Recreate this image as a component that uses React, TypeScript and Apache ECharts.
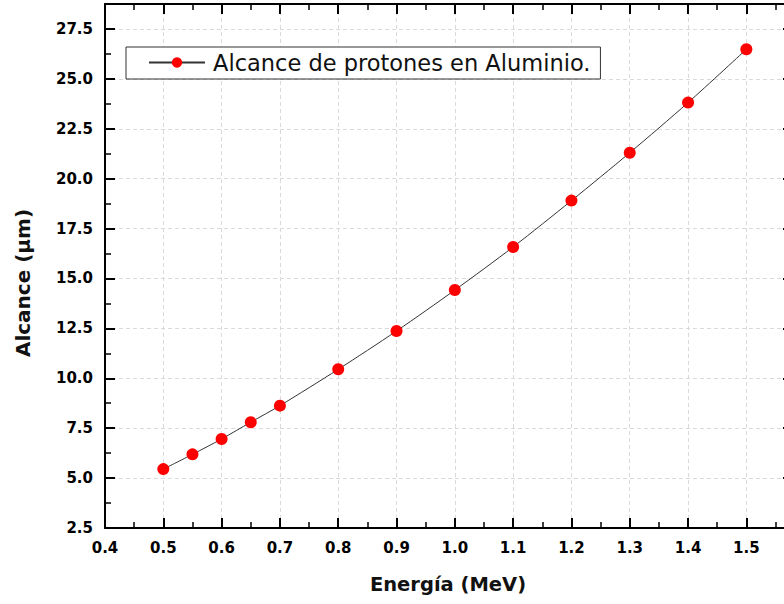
import React, { useEffect, useRef } from "react";
import * as echarts from "echarts";

const energies = [0.5, 0.55, 0.6, 0.65, 0.7, 0.8, 0.9, 1.0, 1.1, 1.2, 1.3, 1.4, 1.5];
const ranges = [5.45, 6.19, 6.96, 7.8, 8.63, 10.45, 12.37, 14.42, 16.58, 18.9, 21.3, 23.81, 26.48];
const seriesName = "Alcance de protones en Aluminio.";
const xTitle = "Energía (MeV)";
const yTitle = "Alcance (µm)";

const LABEL_FONT = "DejaVu Sans";

export default function App() {
  const ref = useRef<HTMLDivElement>(null);
  useEffect(() => {
    document.body.style.margin = "0";
    document.body.style.overflow = "hidden";
    const chart = echarts.init(ref.current!, null, { renderer: "svg" });
    const tickCommon = {
      axisLine: { show: true, lineStyle: { color: "#000", width: 2 } },
      axisTick: { show: true, inside: true, length: 10, lineStyle: { color: "#000", width: 2 } },
      minorTick: { show: true, splitNumber: 2, length: 6, lineStyle: { color: "#000", width: 1.5 } },
    };
    const labelCommon = {
      color: "#000",
      fontFamily: LABEL_FONT,
      fontWeight: "bold" as const,
      fontSize: 15,
      margin: 12,
      showMaxLabel: false,
    };
    const split = { show: true, lineStyle: { color: "#dadada", type: [4, 3] as any, width: 1 } };
    chart.setOption({
      animation: false,
      backgroundColor: "#fff",
      grid: { left: 105, top: 4, width: 688, height: 524, containLabel: false },
      legend: {
        show: true,
        left: 126,
        top: 47,
        orient: "horizontal",
        itemWidth: 56,
        itemHeight: 13,
        padding: [4, 10, 5, 22],
        borderColor: "#333",
        borderWidth: 1,
        backgroundColor: "#fff",
        textStyle: { fontFamily: "DejaVu Sans", fontSize: 22.5, color: "#111", padding: [0, 0, 0, 3] },
        data: [seriesName],
      },
      xAxis: [
        {
          type: "value",
          min: 0.4,
          max: 1.58,
          interval: 0.1,
          position: "bottom",
          ...tickCommon,
          axisLabel: { ...labelCommon, formatter: (v: number) => v.toFixed(1) },
          splitLine: split,
        },
        {
          type: "value",
          min: 0.4,
          max: 1.58,
          interval: 0.1,
          position: "top",
          ...tickCommon,
          axisLabel: { show: false },
          splitLine: { show: false },
        },
      ],
      yAxis: [
        {
          type: "value",
          min: 2.5,
          max: 28.75,
          interval: 2.5,
          position: "left",
          ...tickCommon,
          axisLabel: { ...labelCommon, formatter: (v: number) => v.toFixed(1) },
          splitLine: split,
        },
        {
          type: "value",
          min: 2.5,
          max: 28.75,
          interval: 2.5,
          position: "right",
          ...tickCommon,
          axisLabel: { show: false },
          splitLine: { show: false },
        },
      ],
      graphic: [
        {
          type: "text",
          x: 448,
          y: 584,
          style: {
            text: xTitle,
            fontFamily: "DejaVu Sans",
            fontWeight: "bold",
            fontSize: 19.5,
            fill: "#111",
            align: "center",
            verticalAlign: "middle",
          },
        },
        {
          type: "text",
          x: 23,
          y: 283,
          rotation: Math.PI / 2,
          style: {
            text: yTitle,
            fontFamily: "DejaVu Sans",
            fontWeight: "bold",
            fontSize: 20,
            fill: "#111",
            align: "center",
            verticalAlign: "middle",
          },
        },
      ],
      series: [
        {
          name: seriesName,
          type: "line",
          xAxisIndex: 0,
          yAxisIndex: 0,
          smooth: 0.3,
          data: energies.map((e, i) => [e, ranges[i]]),
          symbol: "circle",
          symbolSize: 12,
          itemStyle: { color: "#ff0000" },
          lineStyle: { color: "#333", width: 1 },
          z: 5,
        },
      ],
    });
    return () => chart.dispose();
  }, []);
  return (
    <div style={{ position: "fixed", left: 0, top: 0, width: 784, height: 604, overflow: "hidden", background: "#fff" }}>
      <div ref={ref} style={{ width: 830, height: 604 }} />
    </div>
  );
}
